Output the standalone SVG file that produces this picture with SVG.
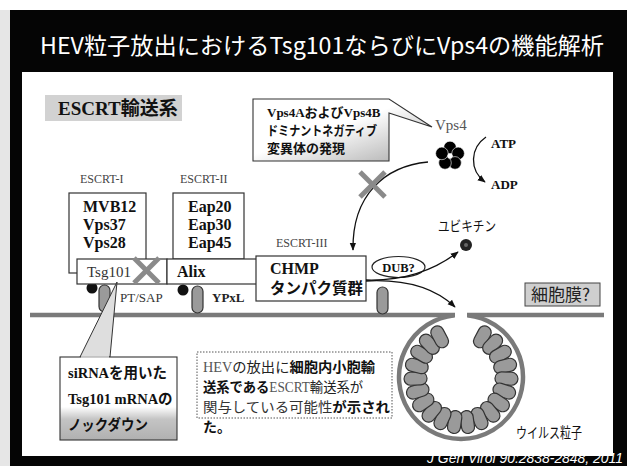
<svg xmlns="http://www.w3.org/2000/svg" xmlns:xlink="http://www.w3.org/1999/xlink" width="627" height="466" viewBox="0 0 627 466">
  <style>
    .serif { font-family: "Liberation Serif", "Noto Sans CJK JP", serif; }
    .jp { font-family: "Noto Sans CJK JP", sans-serif; }
    .lbl { font-family: "Liberation Serif", serif; font-size: 12px; fill: #444; }
    .prot { font-family: "Liberation Serif", "Noto Sans CJK JP", serif; font-size: 16px; font-weight: bold; fill: #111; }
    .box { fill: #fff; stroke: #333; stroke-width: 1.2; }
    .mem { fill: none; stroke: #7a7a7a; stroke-width: 4.5; }
    .pill { fill: #9a9a9a; stroke: #333; stroke-width: 1.2; }
    .cross { stroke: #8a8a8a; stroke-width: 5; stroke-linecap: butt; }
    .conn { fill: none; stroke: #111; stroke-width: 1.3; }
  </style>
  <defs>
    <marker id="arrow" viewBox="0 0 10 10" refX="9" refY="5" markerWidth="8" markerHeight="8" markerUnits="userSpaceOnUse" orient="auto">
      <path d="M0,1 L10,5 L0,9 Z" fill="#111"/>
    </marker>
    <linearGradient id="calloutShade" x1="0" y1="0" x2="1" y2="1">
      <stop offset="0.45" stop-color="#fff"/>
      <stop offset="1" stop-color="#a8a8a8"/>
    </linearGradient>
    <linearGradient id="bottomShade" x1="0" y1="0" x2="0" y2="1">
      <stop offset="0.6" stop-color="#fff"/>
      <stop offset="0.75" stop-color="#c4c4c4"/>
      <stop offset="1" stop-color="#b0b0b0"/>
    </linearGradient>
    <!-- one capsule of the particle shell, pointing outward from the centre -->
    <rect id="cap" x="-6.5" y="-57" width="13" height="23" rx="6.5" ry="6.5" class="pill"/>
  </defs>

  <!-- slide frame -->
  <rect x="0" y="0" width="627" height="466" fill="#fff"/>
  <rect x="0" y="10" width="10" height="456" fill="#e6e6e6"/>
  <rect x="10" y="10" width="617" height="456" fill="#050505"/>
  <rect x="22" y="72" width="591" height="384" fill="#fff"/>

  <!-- title -->
  <text x="40" y="54" class="jp" font-size="23" fill="#fff" textLength="564" lengthAdjust="spacingAndGlyphs">HEV粒子放出におけるTsg101ならびにVps4の機能解析</text>

  <!-- heading -->
  <g id="heading">
    <rect x="45" y="95" width="137" height="26" fill="#d2d2d2"/>
    <text x="58" y="115" class="serif" font-size="19" font-weight="bold" fill="#111">ESCRT輸送系</text>
  </g>

  <!-- cell membrane with budding particle -->
  <g id="membrane">
    <path class="mem" d="M30,315 H455"/>
    <path class="mem" d="M467,315 H604"/>
    <path class="mem" d="M454.5,315.3 A62,62 0 1,0 467.5,315.3"/>
  </g>

  <g id="virus-particle" transform="translate(461,377)">
    <use xlink:href="#cap" transform="rotate(28)"/>
    <use xlink:href="#cap" transform="rotate(44)"/>
    <use xlink:href="#cap" transform="rotate(60)"/>
    <use xlink:href="#cap" transform="rotate(76)"/>
    <use xlink:href="#cap" transform="rotate(92)"/>
    <use xlink:href="#cap" transform="rotate(108)"/>
    <use xlink:href="#cap" transform="rotate(124)"/>
    <use xlink:href="#cap" transform="rotate(140)"/>
    <use xlink:href="#cap" transform="rotate(156)"/>
    <use xlink:href="#cap" transform="rotate(172)"/>
    <use xlink:href="#cap" transform="rotate(188)"/>
    <use xlink:href="#cap" transform="rotate(204)"/>
    <use xlink:href="#cap" transform="rotate(220)"/>
    <use xlink:href="#cap" transform="rotate(236)"/>
    <use xlink:href="#cap" transform="rotate(252)"/>
    <use xlink:href="#cap" transform="rotate(268)"/>
    <use xlink:href="#cap" transform="rotate(284)"/>
    <use xlink:href="#cap" transform="rotate(300)"/>
    <use xlink:href="#cap" transform="rotate(316)"/>
    <use xlink:href="#cap" transform="rotate(332)"/>
  </g>
  <text x="516" y="438" class="jp" font-size="14.5" fill="#111" textLength="66" lengthAdjust="spacingAndGlyphs">ウイルス粒子</text>

  <g id="membrane-label">
    <rect x="525" y="283" width="75" height="23" fill="#cfcfcf" stroke="#444" stroke-width="1"/>
    <text x="531" y="301" class="jp" font-size="17" fill="#222">細胞膜?</text>
  </g>

  <!-- membrane-bound viral motifs -->
  <g id="motif-ptsap">
    <rect x="99" y="285" width="11" height="27" rx="5.5" class="pill"/>
    <circle cx="92" cy="288" r="5.5" fill="#111"/>
    <text x="120" y="302" class="serif" font-size="13" fill="#333">PT/SAP</text>
  </g>
  <g id="motif-ypxl">
    <rect x="192" y="286" width="11" height="27" rx="5.5" class="pill"/>
    <circle cx="183" cy="290" r="5.5" fill="#111"/>
    <text x="212" y="302" class="serif" font-size="13" font-weight="bold" fill="#222">YPxL</text>
  </g>
  <g id="motif-3">
    <rect x="377" y="287" width="11" height="27" rx="5.5" class="pill"/>
  </g>

  <!-- ESCRT-I -->
  <g id="escrt-i">
    <text x="80" y="183" class="lbl">ESCRT-I</text>
    <rect x="69" y="193" width="77" height="80" class="box"/>
    <text x="83" y="212" class="prot">MVB12</text>
    <text x="83" y="230" class="prot">Vps37</text>
    <text x="83" y="248" class="prot">Vps28</text>
  </g>

  <!-- ESCRT-II -->
  <g id="escrt-ii">
    <text x="180" y="183" class="lbl">ESCRT-II</text>
    <rect x="173" y="193" width="71" height="66" class="box"/>
    <text x="188" y="212" class="prot">Eap20</text>
    <text x="188" y="230" class="prot">Eap30</text>
    <text x="188" y="248" class="prot">Eap45</text>
  </g>

  <g id="tsg101">
    <rect x="77" y="259" width="90" height="25" class="box"/>
    <text x="87" y="277" class="serif" font-size="15" fill="#333">Tsg101</text>
    <line x1="134" y1="258" x2="159" y2="283" class="cross"/>
    <line x1="159" y1="258" x2="134" y2="283" class="cross"/>
  </g>

  <g id="alix">
    <rect x="167" y="259" width="100" height="25" class="box"/>
    <text x="177" y="277" class="prot" font-size="15">Alix</text>
  </g>

  <!-- ESCRT-III -->
  <g id="escrt-iii">
    <text x="276" y="247" class="lbl">ESCRT-III</text>
    <rect x="256" y="256" width="110" height="45" class="box"/>
    <text x="270" y="274" class="prot" font-size="15.5">CHMP</text>
    <text x="270" y="294" class="jp" font-size="15.5" font-weight="bold" fill="#111">タンパク質群</text>
  </g>

  <!-- Vps4 ATPase -->
  <g id="vps4">
    <text x="435" y="130" class="serif" font-size="15" fill="#555">Vps4</text>
    <g transform="translate(450,156)" fill="#000" stroke="#fff" stroke-width="0.6">
      <circle cx="0" cy="-8.5" r="6.3"/>
      <circle cx="8.1" cy="-2.6" r="6.3"/>
      <circle cx="5" cy="6.9" r="6.3"/>
      <circle cx="-5" cy="6.9" r="6.3"/>
      <circle cx="-8.1" cy="-2.6" r="6.3"/>
      <path d="M0,-3.2 L0.9,-1.1 L3,-1 L1.4,0.4 L1.9,2.6 L0,1.4 L-1.9,2.6 L-1.4,0.4 L-3,-1 L-0.9,-1.1 Z" fill="#fff" stroke="none"/>
    </g>
    <text x="491" y="148" class="serif" font-size="13" font-weight="bold" fill="#111">ATP</text>
    <text x="491" y="189" class="serif" font-size="13" font-weight="bold" fill="#111">ADP</text>
  </g>

  <g id="dub">
    <ellipse cx="398.5" cy="267" rx="26.5" ry="10.5" fill="#fff" stroke="#222" stroke-width="1.2"/>
    <text x="398.5" y="271.5" class="serif" font-size="12.5" font-weight="bold" fill="#111" text-anchor="middle">DUB?</text>
  </g>

  <g id="ubiquitin">
    <text x="438" y="231" class="jp" font-size="14" fill="#111" textLength="58" lengthAdjust="spacingAndGlyphs">ユビキチン</text>
    <circle cx="466" cy="245" r="6" fill="#222"/>
    <circle cx="466" cy="245" r="2" fill="#666"/>
  </g>

  <!-- callout: dominant-negative Vps4 -->
  <g id="callout-vps4">
    <path d="M253,99 H389 L432,127 L389,113 V161 H253 Z" fill="url(#calloutShade)" stroke="#333" stroke-width="1.1"/>
    <text x="267" y="117" class="serif" font-size="13" font-weight="bold" fill="#111">Vps4AおよびVps4B</text>
    <text x="267" y="135" class="jp" font-size="13" font-weight="bold" fill="#111" textLength="110" lengthAdjust="spacingAndGlyphs">ドミナントネガティブ</text>
    <text x="267" y="153" class="jp" font-size="13" font-weight="bold" fill="#111">変異体の発現</text>
  </g>

  <!-- callout: siRNA knockdown -->
  <g id="callout-sirna">
    <path d="M80,357 L117,282 L110,357 Z" fill="#dedede" stroke="#333" stroke-width="1"/>
    <rect x="60" y="357" width="117" height="83" fill="url(#bottomShade)" stroke="#333" stroke-width="1.1"/>
    <path d="M81,357 H109" stroke="#dedede" stroke-width="1.6"/>
    <text x="68" y="378" class="serif" font-size="14.5" font-weight="bold" fill="#111">siRNAを用いた</text>
    <text x="68" y="404" class="serif" font-size="14.5" font-weight="bold" fill="#111">Tsg101 mRNAの</text>
    <text x="68" y="430" class="jp" font-size="14.5" font-weight="bold" fill="#111" textLength="80" lengthAdjust="spacingAndGlyphs">ノックダウン</text>
  </g>

  <!-- conclusion note -->
  <g id="note">
    <rect x="197" y="352" width="195" height="66" fill="#fff" stroke="#555" stroke-width="1" stroke-dasharray="1.5,1.5"/>
    <text x="203" y="372" class="serif" font-size="14" fill="#222" textLength="172" lengthAdjust="spacingAndGlyphs"><tspan fill="#555">HEV</tspan><tspan font-family="Noto Sans CJK JP">の放出に</tspan><tspan font-family="Noto Sans CJK JP" font-weight="bold" fill="#111">細胞内小胞輸</tspan></text>
    <text x="203" y="392" class="serif" font-size="14" fill="#222" textLength="160" lengthAdjust="spacingAndGlyphs"><tspan font-family="Noto Sans CJK JP" font-weight="bold" fill="#111">送系である</tspan><tspan fill="#555">ESCRT</tspan><tspan font-family="Noto Sans CJK JP">輸送系が</tspan></text>
    <text x="203" y="412" class="jp" font-size="14" fill="#333" textLength="187" lengthAdjust="spacingAndGlyphs">関与している可能性<tspan font-weight="bold" fill="#111">が示され</tspan></text>
    <text x="203" y="432" class="jp" font-size="14" font-weight="bold" fill="#111">た。</text>
  </g>

  <!-- connectors -->
  <g id="connectors">
    <path class="conn" d="M486,137 C470,148 469,170 485,182" marker-end="url(#arrow)"/>
    <path class="conn" d="M428,162 C385,166 352,195 353,250" marker-end="url(#arrow)"/>
    <line x1="360" y1="172" x2="385" y2="197" class="cross"/>
    <line x1="385" y1="172" x2="360" y2="197" class="cross"/>
    <path class="conn" d="M366,280 C400,281 432,272 458,252" marker-end="url(#arrow)"/>
    <path class="conn" d="M366,281 C405,279 435,288 455,307" marker-end="url(#arrow)"/>
  </g>

  <!-- citation -->
  <text x="427" y="463" font-family="Liberation Sans, sans-serif" font-size="14" font-style="italic" fill="#fff" textLength="196" lengthAdjust="spacingAndGlyphs">J Gen Virol 90:2838-2848, 2011</text>
</svg>
